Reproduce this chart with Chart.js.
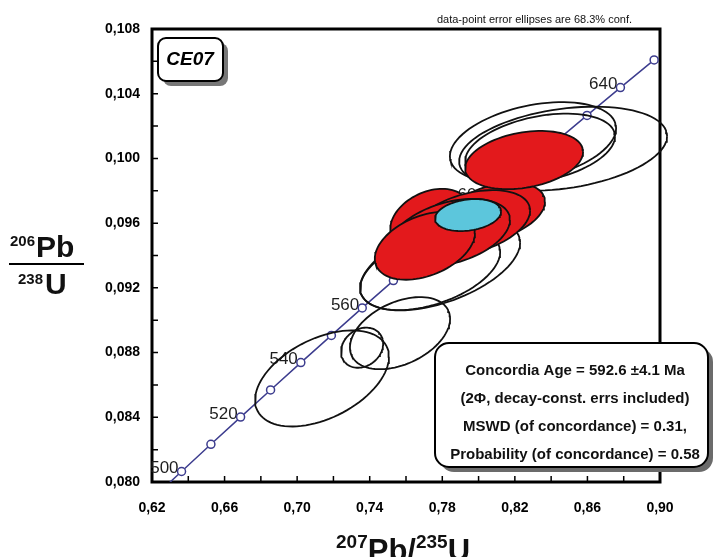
<!DOCTYPE html>
<html>
<head>
<meta charset="utf-8">
<script src="https://cdn.jsdelivr.net/npm/chart.js@4.4.0/dist/chart.umd.min.js"></script>
<style>
html, body { margin: 0; padding: 0; background: #fff; }
#wrap { width: 714px; height: 557px; }
</style>
</head>
<body>
<div id="wrap"><canvas id="concordia-chart" width="714" height="557"></canvas></div>
<script>
// Concordia curve, one point every 10 Ma
const ages  = [490, 500, 510, 520, 530, 540, 550, 560, 570, 580, 590, 600, 610, 620, 630, 640, 650];
const concX = [0.62024, 0.63628, 0.65247, 0.66883, 0.68535, 0.70203, 0.71887, 0.73588, 0.75306,
               0.77041, 0.78794, 0.80563, 0.82350, 0.84155, 0.85978, 0.87818, 0.89677];
const concY = [0.07898, 0.08065, 0.08233, 0.08401, 0.08569, 0.08738, 0.08906, 0.09076, 0.09245,
               0.09414, 0.09584, 0.09754, 0.09925, 0.10095, 0.10266, 0.10438, 0.10609];
const labelAges = [500, 520, 540, 560, 580, 600, 620, 640];

// error ellipses: centre, half widths, correlation
const openX   = [0.8300, 0.8466, 0.8339, 0.7137, 0.7358, 0.7567, 0.7788, 0.7733];
const openY   = [0.1010, 0.1006, 0.1006, 0.0864, 0.0883, 0.0892, 0.0934, 0.0931];
const openSX  = [0.0458, 0.0573, 0.0413, 0.0369, 0.0116, 0.0276, 0.0441, 0.0386];
const openSY  = [0.00248, 0.00260, 0.00217, 0.00297, 0.00124, 0.00223, 0.00279, 0.00248];
const openRho = [0.35, 0.30, 0.35, 0.45, 0.20, 0.40, 0.50, 0.45];

const redX   = [0.8251, 0.8355, 0.7704, 0.7842, 0.7953, 0.8090, 0.7733];
const redY   = [0.0999, 0.1003, 0.0946, 0.0954, 0.0960, 0.0967, 0.0962];
const redSX  = [0.0325, 0.0171, 0.0276, 0.0331, 0.0331, 0.0276, 0.0220];
const redSY  = [0.00180, 0.00077, 0.00210, 0.00210, 0.00204, 0.00180, 0.00192];
const redRho = [0.28, 0.15, 0.38, 0.38, 0.38, 0.35, 0.30];

// concordia age ellipse
const ageX = [0.7942];
const ageY = [0.0965];
const ageSX = [0.0182];
const ageSY = [0.00099];
const ageRho = [0.22];

const statLines = [
    'Concordia Age = 592.6 \u00b14.1 Ma',
    '(2\u03a6, decay-const. errs included)',
    'MSWD (of concordance) = 0.31,',
    'Probability (of concordance) = 0.58'
];

function ellipsePoints(cx, cy, sx, sy, rho) {
    const pts = [];
    const k = Math.sqrt(1 - rho * rho);
    for (let i = 0; i <= 90; i++) {
        const t = i / 90 * 2 * Math.PI;
        pts.push({ x: cx + sx * Math.cos(t), y: cy + sy * (rho * Math.cos(t) + k * Math.sin(t)) });
    }
    return pts;
}

function ellipseSets(X, Y, SX, SY, R, fillColor, order) {
    return X.map((cx, i) => ({
        data: ellipsePoints(cx, Y[i], SX[i], SY[i], R[i]),
        showLine: true,
        borderColor: '#111',
        borderWidth: 1.8,
        backgroundColor: fillColor,
        fill: fillColor ? 'shape' : false,
        pointRadius: 0,
        tension: 0,
        clip: false,
        order: order + i * 0.01
    }));
}

const datasets = [
    ...ellipseSets(ageX, ageY, ageSX, ageSY, ageRho, '#5cc6dc', 0),
    ...ellipseSets(redX, redY, redSX, redSY, redRho, '#e3191c', 1),
    ...ellipseSets(openX, openY, openSX, openSY, openRho, null, 5),
    {
        data: concX.map((x, i) => ({ x: x, y: concY[i] })),
        showLine: true,
        borderColor: '#3c3c8e',
        borderWidth: 1.5,
        pointRadius: 4,
        pointBackgroundColor: '#fff',
        pointBorderColor: '#3c3c8e',
        pointBorderWidth: 1.5,
        order: 10
    }
];

function roundBox(ctx, x, y, w, h, r) {
    ctx.beginPath();
    ctx.roundRect(x, y, w, h, r);
}

// frame, inner ticks, age labels (under the ellipses)
const framePlugin = {
    id: 'framePlugin',
    beforeDatasetsDraw(chart) {
        const { ctx, chartArea: a, scales: { x, y } } = chart;
        ctx.save();
        ctx.strokeStyle = '#000';
        ctx.lineWidth = 1.5;
        ctx.beginPath();
        x.ticks.forEach(t => {
            const px = x.getPixelForValue(t.value);
            ctx.moveTo(px, a.bottom);
            ctx.lineTo(px, a.bottom - 6);
        });
        y.ticks.forEach(t => {
            const py = y.getPixelForValue(t.value);
            ctx.moveTo(a.left, py);
            ctx.lineTo(a.left + 6, py);
        });
        ctx.stroke();
        ctx.lineWidth = 3;
        ctx.strokeRect(a.left, a.top, a.right - a.left, a.bottom - a.top);

        ctx.fillStyle = '#1e1e1e';
        ctx.font = '17px "Liberation Sans", Arial, sans-serif';
        ctx.textAlign = 'right';
        ctx.textBaseline = 'middle';
        labelAges.forEach(age => {
            const i = ages.indexOf(age);
            ctx.fillText(String(age), x.getPixelForValue(concX[i]) - 3, y.getPixelForValue(concY[i]) - 3);
        });
        ctx.restore();
    },
    afterDraw(chart) {
        const ctx = chart.ctx;
        ctx.save();
        // sample box
        ctx.fillStyle = '#777';
        roundBox(ctx, 163, 43, 65, 43, 8);
        ctx.fill();
        ctx.fillStyle = '#fff';
        ctx.strokeStyle = '#000';
        ctx.lineWidth = 2;
        roundBox(ctx, 158, 38, 65, 43, 8);
        ctx.fill();
        ctx.stroke();
        ctx.fillStyle = '#000';
        ctx.font = 'italic bold 19px "Liberation Sans", Arial, sans-serif';
        ctx.textAlign = 'center';
        ctx.textBaseline = 'middle';
        ctx.fillText('CE07', 190, 60);

        // result box
        ctx.fillStyle = '#6b6b6b';
        roundBox(ctx, 440, 348, 273, 124, 14);
        ctx.fill();
        ctx.fillStyle = '#fff';
        roundBox(ctx, 435, 343, 273, 124, 14);
        ctx.fill();
        ctx.stroke();
        ctx.fillStyle = '#111';
        ctx.font = 'bold 15px "Liberation Sans", Arial, sans-serif';
        statLines.forEach((s, i) => ctx.fillText(s, 575, 371 + i * 28));

        // note
        ctx.font = '11px "Liberation Sans", Arial, sans-serif';
        ctx.textAlign = 'right';
        ctx.fillText('data-point error ellipses are 68.3% conf.', 632, 20);

        // y title as a fraction
        ctx.textAlign = 'left';
        ctx.textBaseline = 'alphabetic';
        ctx.font = 'bold 15px "Liberation Sans", Arial, sans-serif';
        ctx.fillText('206', 10, 246);
        ctx.font = 'bold 30px "Liberation Sans", Arial, sans-serif';
        ctx.fillText('Pb', 36, 257);
        ctx.lineWidth = 2;
        ctx.beginPath();
        ctx.moveTo(9, 264);
        ctx.lineTo(84, 264);
        ctx.stroke();
        ctx.font = 'bold 15px "Liberation Sans", Arial, sans-serif';
        ctx.fillText('238', 18, 284);
        ctx.font = 'bold 30px "Liberation Sans", Arial, sans-serif';
        ctx.fillText('U', 45, 294);

        // x title
        let cx = 336;
        const parts = [['207', 19, 548], ['Pb/', 31, 561], ['235', 19, 548], ['U', 31, 561]];
        parts.forEach(p => {
            ctx.font = 'bold ' + p[1] + 'px "Liberation Sans", Arial, sans-serif';
            ctx.fillText(p[0], cx, p[2]);
            cx += ctx.measureText(p[0]).width;
        });
        ctx.restore();
    }
};

const ctxConc = document.querySelector('#concordia-chart').getContext('2d');

const concordiaGraph = new Chart(ctxConc, {
    type: 'scatter',
    data: { datasets: datasets },
    options: {
        responsive: false,
        animation: false,
        events: [],
        layout: { padding: { left: 0, top: 29, right: 54, bottom: 0 } },
        plugins: { legend: { display: false }, tooltip: { enabled: false } },
        scales: {
            x: {
                type: 'linear',
                min: 0.62,
                max: 0.90,
                afterFit: scale => { scale.height = 75; },
                grid: { display: false, drawTicks: false },
                border: { display: false },
                ticks: {
                    stepSize: 0.02,
                    padding: 18,
                    color: '#000',
                    font: { family: '"Liberation Sans", Arial', size: 14, weight: 'bold' },
                    callback: v => (Math.round(v * 100) % 4 === 2 ? v.toFixed(2).replace('.', ',') : '')
                }
            },
            y: {
                type: 'linear',
                min: 0.080,
                max: 0.108,
                afterFit: scale => { scale.width = 152; },
                grid: { display: false, drawTicks: false },
                border: { display: false },
                ticks: {
                    stepSize: 0.002,
                    padding: 12,
                    color: '#000',
                    font: { family: '"Liberation Sans", Arial', size: 14, weight: 'bold' },
                    callback: v => (Math.round(v * 1000) % 4 === 0 ? v.toFixed(3).replace('.', ',') : '')
                }
            }
        }
    },
    plugins: [framePlugin]
});
</script>
</body>
</html>
